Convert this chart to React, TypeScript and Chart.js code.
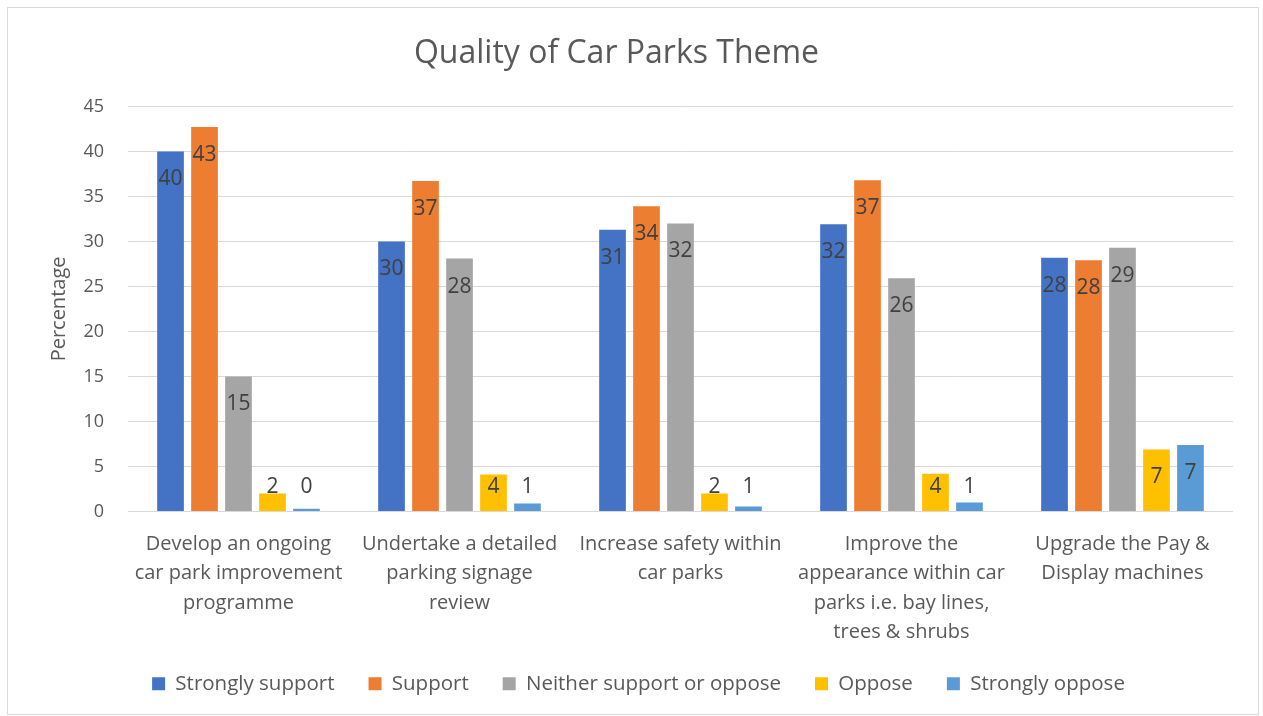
import React, { useEffect, useRef } from "react";
import { Chart, registerables } from "chart.js";

Chart.register(...registerables);

const title = "Quality of Car Parks Theme";
const yAxisTitle = "Percentage";
const categories: string[][] = [
  ["Develop an ongoing", "car park improvement", "programme"],
  ["Undertake a detailed", "parking signage", "review"],
  ["Increase safety within", "car parks"],
  ["Improve the", "appearance within car", "parks i.e. bay lines,", "trees & shrubs"],
  ["Upgrade the Pay &", "Display machines"],
];
const seriesNames = [
  "Strongly support",
  "Support",
  "Neither support or oppose",
  "Oppose",
  "Strongly oppose",
];
const stronglySupport = [40.0, 30.0, 31.3, 31.9, 28.2];
const support = [42.7, 36.7, 33.9, 36.8, 27.9];
const neither = [15.0, 28.1, 32.0, 25.9, 29.3];
const oppose = [2.0, 4.1, 2.0, 4.2, 6.9];
const stronglyOppose = [0.3, 0.9, 0.55, 1.0, 7.4];
const seriesColors = ["#4472C4", "#ED7D31", "#A5A5A5", "#FFC000", "#5B9BD5"];
const yMin = 0;
const yMax = 45;
const yStep = 5;

const FONT = "'Open Sans', 'Noto Sans', sans-serif";

const dataLabelPlugin = {
  id: "dataLabels",
  afterDatasetsDraw(chart: any) {
    const ctx = chart.ctx;
    const yScale = chart.scales.y;
    const base = yScale.getPixelForValue(0);
    ctx.save();
    ctx.font = `21px ${FONT}`;
    ctx.fillStyle = "#404040";
    ctx.textAlign = "center";
    ctx.textBaseline = "middle";
    chart.data.datasets.forEach((ds: any, di: number) => {
      const meta = chart.getDatasetMeta(di);
      meta.data.forEach((bar: any, i: number) => {
        const v = ds.data[i];
        const y = Math.min(bar.y + 28, base - 24);
        ctx.fillText(String(Math.round(v)), bar.x, y);
      });
    });
    ctx.restore();
  },
};

const legendShiftPlugin = {
  id: "legendShift",
  afterLayout(chart: any) {
    const lg = chart.legend;
    if (lg) {
      lg.left += 22;
      lg.right += 22;
    }
  },
};

export default function App() {
  const ref = useRef<HTMLCanvasElement | null>(null);
  useEffect(() => {
    if (!ref.current) return;
    const all = [stronglySupport, support, neither, oppose, stronglyOppose];
    const chart = new Chart(ref.current, {
      type: "bar",
      data: {
        labels: categories,
        datasets: all.map((d, i) => ({
          label: seriesNames[i],
          data: d,
          backgroundColor: seriesColors[i],
          borderWidth: 0,
          categoryPercentage: 0.769,
          barPercentage: 0.785,
        })),
      },
      options: {
        responsive: false,
        animation: false,
        layout: { padding: { left: 0, right: 30, top: 0, bottom: 12 } },
        plugins: {
          title: {
            display: true,
            text: title,
            color: "#595959",
            font: { family: FONT, size: 32, weight: "normal", lineHeight: 1.2 },
            padding: { top: 35, bottom: 33 },
          },
          legend: {
            position: "bottom",
            labels: {
              color: "#595959",
              font: { family: FONT, size: 20.5 },
              boxWidth: 13,
              boxHeight: 13,
              padding: 34,
            },
          },
          tooltip: { enabled: false },
        },
        scales: {
          x: {
            afterFit: (scale: any) => {
              scale.height = 128;
            },
            grid: { display: false, drawTicks: false },
            border: { display: false },
            ticks: {
              color: "#595959",
              font: { family: FONT, size: 20, lineHeight: 1.475 },
              padding: 18,
              maxRotation: 0,
              autoSkip: false,
            },
          },
          y: {
            min: yMin,
            max: yMax,
            afterFit: (scale: any) => {
              scale.width = 128;
            },
            grid: { color: "#D9D9D9", drawTicks: false, lineWidth: 1 },
            border: { display: false },
            ticks: {
              stepSize: yStep,
              color: "#595959",
              font: { family: FONT, size: 18 },
              padding: 24,
            },
            title: {
              display: true,
              text: yAxisTitle,
              color: "#595959",
              font: { family: FONT, size: 20, lineHeight: 1.2 },
              padding: { top: 47, bottom: 0 },
            },
          },
        },
      },
      plugins: [dataLabelPlugin, legendShiftPlugin],
    });
    return () => chart.destroy();
  }, []);
  return (
    <div style={{ position: "fixed", left: 0, top: 0, width: 1263, height: 716, background: "#fff" }}>
      <canvas ref={ref} width={1263} height={716} style={{ position: "absolute", left: 0, top: 0 }} />
      <div
        style={{
          position: "absolute",
          left: 7,
          top: 7,
          width: 1250,
          height: 706,
          border: "1px solid #D9D9D9",
          pointerEvents: "none",
        }}
      />
    </div>
  );
}
